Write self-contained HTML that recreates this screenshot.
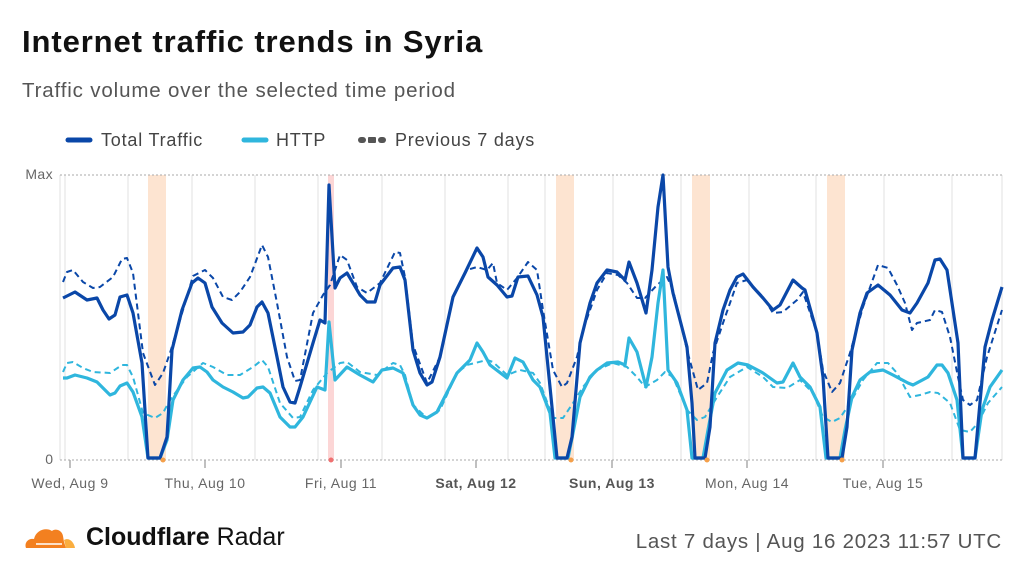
<!DOCTYPE html>
<html><head><meta charset="utf-8"><style>
body{margin:0;width:1024px;height:576px;background:#fff;font-family:"Liberation Sans",sans-serif;overflow:hidden;position:relative}
.t{position:absolute;white-space:nowrap}
</style></head><body>
<div class="t" style="left:22px;top:24px;font-size:31px;font-weight:bold;color:#111;letter-spacing:0.9px">Internet traffic trends in Syria</div>
<div class="t" style="left:22px;top:79px;font-size:20.5px;color:#555;letter-spacing:0.85px">Traffic volume over the selected time period</div>
<svg width="1024" height="576" style="position:absolute;left:0;top:0" font-family="Liberation Sans, sans-serif">
<line x1="68" y1="140" x2="90" y2="140" stroke="#0a47a8" stroke-width="5" stroke-linecap="round"/>
<text x="101" y="146" font-size="18" fill="#444" letter-spacing="0.8">Total Traffic</text>
<line x1="244" y1="140" x2="266" y2="140" stroke="#2fb6dd" stroke-width="5" stroke-linecap="round"/>
<text x="276" y="146" font-size="18" fill="#444" letter-spacing="0.8">HTTP</text>
<g fill="#555"><rect x="358" y="137" width="8" height="6" rx="3"/><rect x="368" y="137" width="8" height="6" rx="1"/><rect x="378" y="137" width="8" height="6" rx="3"/></g>
<text x="395" y="146" font-size="18" fill="#444" letter-spacing="0.8">Previous 7 days</text>
<g stroke="#e2e2e2" stroke-width="1">
<line x1="65" y1="175" x2="65" y2="460"/><line x1="128" y1="175" x2="128" y2="460"/><line x1="192" y1="175" x2="192" y2="460"/><line x1="255" y1="175" x2="255" y2="460"/><line x1="318" y1="175" x2="318" y2="460"/><line x1="382" y1="175" x2="382" y2="460"/><line x1="445" y1="175" x2="445" y2="460"/><line x1="508" y1="175" x2="508" y2="460"/><line x1="545" y1="175" x2="545" y2="460"/><line x1="613" y1="175" x2="613" y2="460"/><line x1="681" y1="175" x2="681" y2="460"/><line x1="749" y1="175" x2="749" y2="460"/><line x1="816" y1="175" x2="816" y2="460"/><line x1="884" y1="175" x2="884" y2="460"/><line x1="952" y1="175" x2="952" y2="460"/><line x1="1002" y1="175" x2="1002" y2="460"/>
<line x1="60" y1="175" x2="60" y2="460"/>
</g>
<g fill="#fde4d1"><rect x="148" y="175" width="18" height="285"/><rect x="556" y="175" width="18" height="285"/><rect x="692" y="175" width="18" height="285"/><rect x="827" y="175" width="18" height="285"/></g>
<rect x="328" y="175" width="6" height="285" fill="#fcd6d6"/>
<line x1="60" y1="175" x2="1003" y2="175" stroke="#aaa" stroke-dasharray="2 2"/>
<line x1="60" y1="460" x2="1003" y2="460" stroke="#aaa" stroke-dasharray="2 2"/>
<g stroke="#aaa" stroke-width="1.5"><line x1="70" y1="460" x2="70" y2="468"/><line x1="205" y1="460" x2="205" y2="468"/><line x1="341" y1="460" x2="341" y2="468"/><line x1="476" y1="460" x2="476" y2="468"/><line x1="612" y1="460" x2="612" y2="468"/><line x1="747" y1="460" x2="747" y2="468"/><line x1="883" y1="460" x2="883" y2="468"/></g>
<text x="53" y="179" font-size="14" fill="#666" text-anchor="end" letter-spacing="0.4">Max</text>
<text x="53" y="464" font-size="14" fill="#666" text-anchor="end">0</text>
<g font-size="14" fill="#666" text-anchor="middle" letter-spacing="0.5">
<text x="70" y="488">Wed, Aug 9</text><text x="205" y="488">Thu, Aug 10</text><text x="341" y="488">Fri, Aug 11</text><text x="476" y="488" font-weight="bold" fill="#555">Sat, Aug 12</text><text x="612" y="488" font-weight="bold" fill="#555">Sun, Aug 13</text><text x="747" y="488">Mon, Aug 14</text><text x="883" y="488">Tue, Aug 15</text>
</g>
<g fill="none" stroke-linejoin="round" stroke-width="2">
<polyline stroke="#2fb6dd" stroke-dasharray="6 4" points="63,372 67,363 73,362 83,368 93,372 110,373 122,365 127,365 133,377 143,413 155,418 163,413 170,400 187,377 203,363 213,367 227,375 240,375 253,367 262,360 268,367 280,403 293,418 300,417 313,390 327,373 340,363 347,362 360,372 377,375 393,363 400,365 405,375 413,405 427,418 440,410 457,373 467,365 487,360 493,362 507,375 520,370 533,373 540,383 553,418 563,418 573,403 583,387 597,370 613,363 627,367 637,377 645,387 657,380 665,372 673,377 687,410 697,420 705,417 717,397 730,377 747,367 763,377 773,387 787,388 800,380 813,393 823,417 832,422 840,418 850,403 863,380 877,363 888,363 897,373 910,397 920,395 930,392 938,393 950,403 960,430 970,432 978,423 988,403 1002,387"/>
<polyline stroke="#0a47a8" stroke-dasharray="6 4" points="63,282 67,272 73,270 83,282 93,288 100,287 113,277 122,259 127,258 133,273 143,353 155,385 163,373 170,353 183,310 193,276 205,270 213,278 223,297 232,300 240,292 250,277 262,245 268,257 277,303 287,357 295,381 300,380 313,313 323,295 330,285 340,255 347,260 357,287 367,293 380,283 395,252 400,253 405,277 413,345 427,383 440,357 453,297 467,270 477,267 487,270 493,263 497,283 507,290 517,278 528,262 537,270 543,310 553,370 562,387 567,383 577,357 583,330 597,290 607,273 618,275 627,283 637,298 645,298 657,285 667,277 673,290 687,350 698,390 707,383 713,353 723,323 737,283 747,280 763,297 773,313 783,312 797,300 803,292 817,333 823,370 832,392 840,383 850,353 863,307 878,265 888,268 897,285 905,303 912,330 917,323 930,320 935,310 942,312 950,337 958,377 963,400 970,405 977,400 987,357 1002,310"/>
<polyline stroke="#2fb6dd" stroke-width="3.2" points="63,378 67,378 75,375 87,378 97,382 103,388 110,395 115,393 120,386 127,383 133,392 142,417 148,458 160,458 167,440 173,400 183,380 193,368 200,367 207,372 213,380 223,387 233,392 243,398 248,397 257,388 263,387 270,393 280,417 290,427 295,427 303,417 317,387 325,390 329,322 335,380 347,367 360,375 373,382 382,370 393,368 403,373 413,405 420,415 427,418 437,412 457,373 470,360 477,343 483,352 490,365 507,378 515,358 523,362 533,380 540,387 550,413 555,458 568,458 573,433 580,397 590,377 597,370 607,363 618,362 625,365 629,338 637,352 646,387 652,357 658,303 663,270 668,370 677,383 687,410 692,458 703,458 708,430 715,393 727,370 738,363 748,365 763,373 777,383 783,382 793,363 800,377 810,387 820,407 826,458 840,458 845,430 852,397 860,380 870,372 883,370 893,375 908,383 913,385 928,377 937,365 942,365 948,373 957,400 963,458 975,458 982,410 990,387 1002,370"/>
<polyline stroke="#0a47a8" stroke-width="3.2" points="63,298 67,296 75,292 87,300 97,298 103,310 109,319 115,315 120,297 127,295 133,313 142,363 148,458 160,458 167,437 172,350 182,310 192,283 198,278 205,283 212,307 222,323 233,333 243,332 250,325 257,307 262,302 268,313 277,357 283,387 290,402 295,403 300,387 313,343 320,320 325,323 329,185 335,288 340,278 347,273 353,283 360,295 367,302 375,302 380,285 393,268 400,267 405,280 413,350 420,373 427,385 432,382 440,357 453,297 465,273 477,248 483,257 488,277 497,285 507,297 512,296 518,277 528,276 537,295 543,317 553,417 557,458 567,458 572,437 580,343 590,303 597,283 607,270 617,272 625,280 629,262 637,283 646,313 652,270 658,207 663,175 668,267 673,293 687,347 692,403 695,458 705,458 710,427 715,343 723,310 730,290 737,277 743,274 753,287 763,298 773,310 780,305 793,280 802,288 805,290 817,333 823,377 828,458 842,458 847,427 852,350 860,313 867,293 878,285 890,295 902,310 910,313 917,303 928,283 935,260 940,259 947,270 958,343 963,458 975,458 985,347 992,320 1002,287"/>
</g>
<g fill="#f5a04a"><circle cx="163" cy="460" r="2.5"/><circle cx="571" cy="460" r="2.5"/><circle cx="707" cy="460" r="2.5"/><circle cx="842" cy="460" r="2.5"/></g>
<circle cx="331" cy="460" r="2.5" fill="#f07070"/>
<g transform="translate(22,524)">
<path d="M4,24 C2,18 7,14 12,15 C14,6 24,3 30,7 C33,4 40,6 41,12 L42,18 L44,24 Z" fill="#f38020"/>
<path d="M44,24 L42,16 C47,13 52,18 53,24 Z" fill="#faae40"/>
<path d="M14,20 L40,20" stroke="#fff" stroke-width="1.5"/>
</g>
</svg>
<div class="t" style="left:86px;top:523px;font-size:25px;color:#111"><b>Cloudflare</b> Radar</div>
<div class="t" style="right:22px;top:530px;font-size:20.5px;color:#555;letter-spacing:0.75px">Last 7 days | Aug 16 2023 11:57 UTC</div>
</body></html>
